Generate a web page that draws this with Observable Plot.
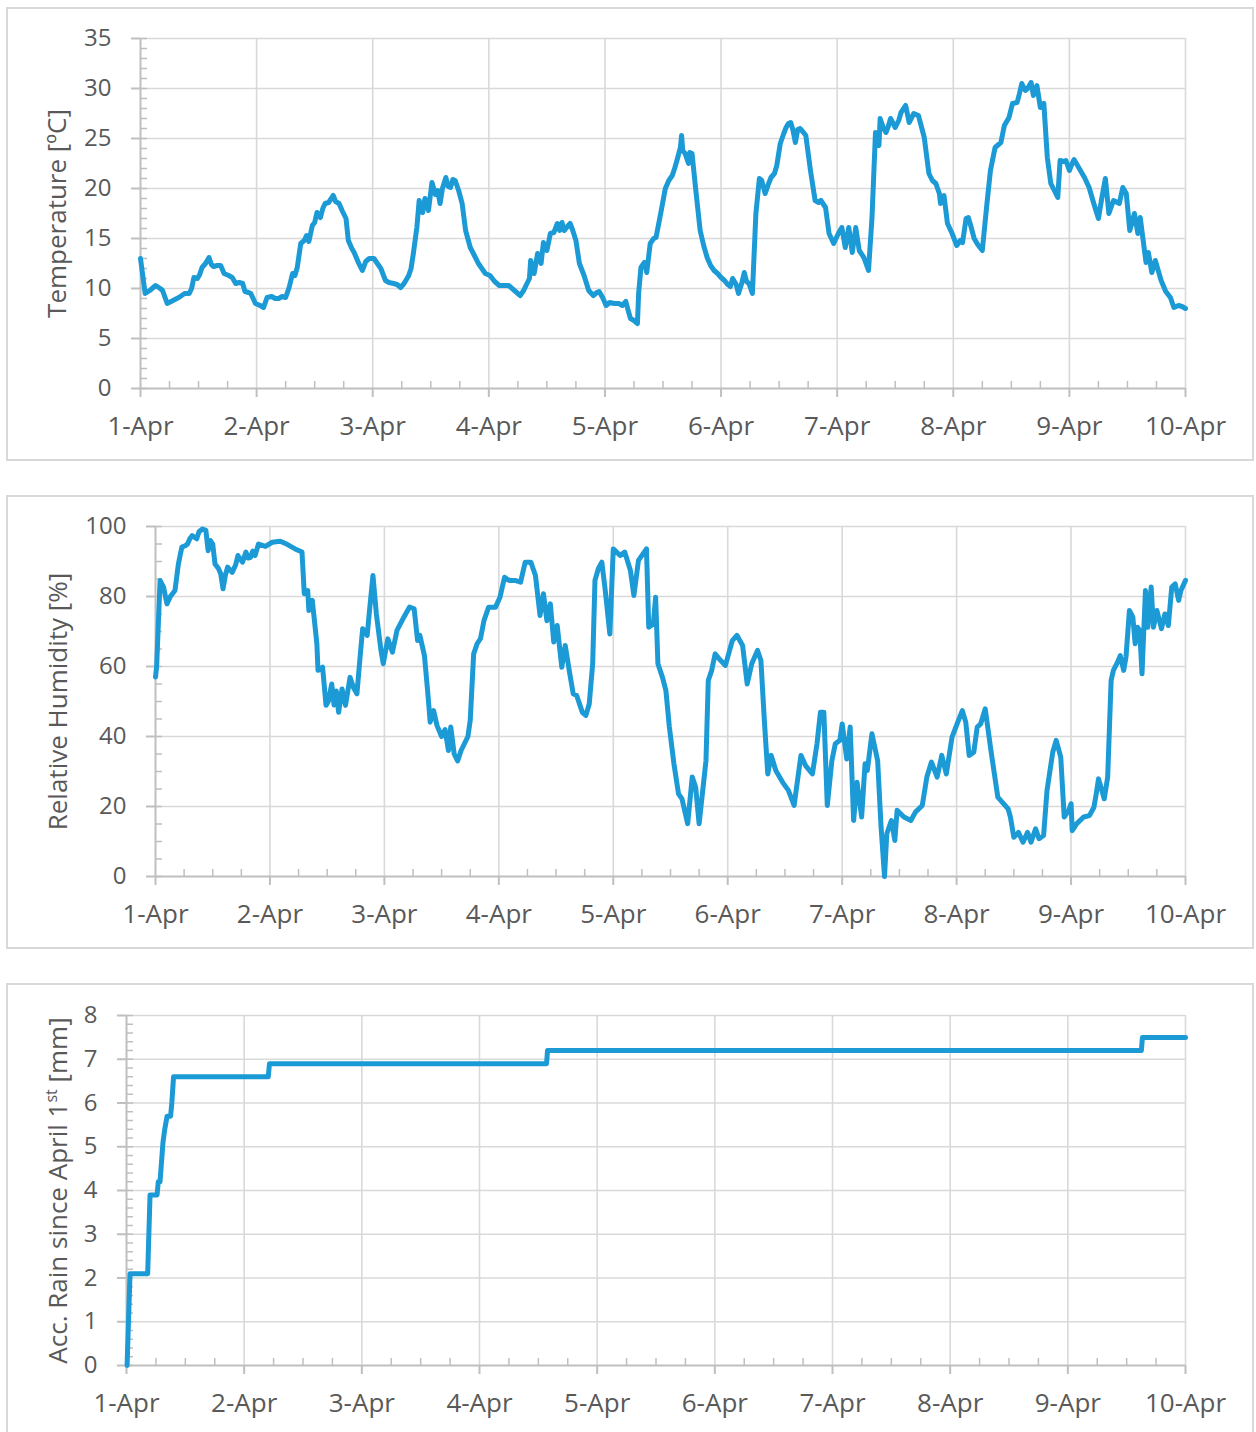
<!DOCTYPE html>
<html><head><meta charset="utf-8">
<script src="https://cdn.jsdelivr.net/npm/d3@7"></script>
<script src="https://cdn.jsdelivr.net/npm/@observablehq/plot@0.6"></script>
<style>
body{margin:0;background:#fff;}
#page{position:relative;width:1256px;height:1432px;overflow:hidden;font-family:"Open Sans",sans-serif;background:#fff;}
.box{position:absolute;border:2px solid #d9d9d9;box-sizing:border-box;pointer-events:none;}
.chart{position:absolute;left:0;}
</style></head><body><div id="page"></div>
<script>
// ---- Data (x = days since 1-Apr 00:00) ----
const dayLabels = ["1-Apr","2-Apr","3-Apr","4-Apr","5-Apr","6-Apr","7-Apr","8-Apr","9-Apr","10-Apr"];

const tempDay = [0.00,0.04,0.08,0.13,0.17,0.19,0.23,0.28,0.33,0.38,0.42,0.44,0.46,0.49,0.51,0.53,0.56,0.59,0.61,0.63,0.66,0.69,0.72,0.76,0.79,0.82,0.85,0.88,0.90,0.93,0.95,0.99,1.03,1.06,1.09,1.13,1.16,1.19,1.22,1.25,1.28,1.31,1.33,1.35,1.38,1.41,1.43,1.45,1.48,1.50,1.52,1.55,1.57,1.59,1.62,1.66,1.68,1.71,1.74,1.77,1.79,1.82,1.84,1.88,1.91,1.94,1.97,2.01,2.04,2.07,2.11,2.14,2.18,2.21,2.24,2.27,2.31,2.33,2.35,2.38,2.40,2.43,2.45,2.48,2.51,2.54,2.56,2.58,2.60,2.63,2.65,2.67,2.69,2.71,2.74,2.77,2.80,2.84,2.88,2.91,2.94,2.97,3.01,3.05,3.09,3.13,3.17,3.22,3.27,3.30,3.32,3.35,3.36,3.39,3.42,3.45,3.47,3.50,3.53,3.56,3.59,3.61,3.63,3.65,3.67,3.70,3.72,3.75,3.78,3.82,3.86,3.90,3.93,3.95,3.98,4.01,4.04,4.08,4.12,4.15,4.18,4.20,4.22,4.25,4.28,4.29,4.31,4.34,4.36,4.39,4.42,4.44,4.48,4.52,4.55,4.58,4.60,4.62,4.65,4.66,4.67,4.69,4.72,4.73,4.75,4.78,4.82,4.85,4.88,4.91,4.94,4.97,5.00,5.03,5.05,5.08,5.10,5.13,5.15,5.18,5.20,5.22,5.24,5.27,5.30,5.33,5.35,5.38,5.41,5.43,5.46,5.48,5.51,5.54,5.56,5.58,5.60,5.62,5.64,5.66,5.68,5.71,5.73,5.77,5.81,5.84,5.86,5.90,5.93,5.97,6.01,6.04,6.07,6.10,6.13,6.16,6.19,6.23,6.27,6.30,6.33,6.36,6.37,6.40,6.42,6.44,6.46,6.50,6.53,6.55,6.59,6.62,6.66,6.70,6.75,6.79,6.82,6.85,6.88,6.89,6.92,6.95,6.99,7.03,7.06,7.08,7.11,7.13,7.15,7.18,7.21,7.25,7.29,7.32,7.36,7.41,7.44,7.48,7.51,7.55,7.57,7.59,7.62,7.64,7.67,7.69,7.72,7.75,7.78,7.81,7.84,7.87,7.90,7.92,7.95,7.97,8.00,8.02,8.04,8.08,8.13,8.17,8.21,8.25,8.28,8.31,8.34,8.38,8.43,8.46,8.49,8.52,8.56,8.59,8.61,8.66,8.68,8.71,8.74,8.79,8.83,8.87,8.90,8.94,8.97,9.00];
const tempC = [13.0,9.5,9.8,10.3,10.0,9.8,8.5,8.8,9.1,9.5,9.5,10.0,11.1,11.0,11.4,12.1,12.5,13.1,12.4,12.2,12.3,12.3,11.5,11.3,11.1,10.5,10.6,10.5,9.7,9.6,9.5,8.5,8.3,8.1,9.1,9.2,9.0,9.0,9.2,9.1,10.1,11.5,11.3,12.1,14.5,14.8,15.3,14.7,16.3,16.6,17.6,17.1,18.0,18.5,18.6,19.3,18.7,18.5,17.7,17.0,14.8,14.0,13.6,12.5,11.8,12.7,13.0,13.0,12.5,12.0,10.8,10.6,10.5,10.4,10.1,10.5,11.3,12.0,13.5,16.1,18.8,17.6,19.0,17.8,20.6,19.4,19.8,18.5,20.0,21.1,20.2,20.1,20.9,20.8,19.8,18.5,15.8,14.1,13.2,12.5,12.0,11.5,11.3,10.7,10.3,10.3,10.3,9.8,9.3,9.8,10.3,11.0,12.8,11.5,13.5,12.5,14.6,13.8,15.5,15.6,16.5,15.8,16.6,15.8,16.1,16.5,15.9,14.8,12.5,11.3,9.8,9.3,9.6,9.7,9.1,8.3,8.6,8.5,8.5,8.3,8.7,7.8,7.0,6.8,6.5,9.5,12.1,12.6,11.6,14.5,15.0,15.1,17.5,20.0,20.8,21.3,22.0,22.8,24.1,25.3,23.8,23.5,22.5,23.6,23.5,20.1,15.8,14.3,13.1,12.3,11.8,11.5,11.1,10.8,10.5,10.2,11.0,10.4,9.5,10.6,11.6,10.7,10.5,9.5,17.5,21.0,20.8,19.5,20.5,21.1,21.5,22.3,24.5,25.5,26.1,26.5,26.6,25.8,24.6,25.9,26.0,25.6,25.3,21.8,18.8,18.6,18.8,18.1,15.5,14.5,15.5,16.1,14.1,16.1,13.6,16.1,13.8,13.1,11.8,17.1,25.6,24.3,27.0,26.0,25.6,26.2,27.0,26.1,26.8,27.6,28.3,26.6,27.5,27.3,25.1,21.5,20.8,20.5,19.5,18.5,19.3,16.5,15.5,14.3,14.8,14.6,17.0,17.1,16.3,15.0,14.4,13.8,18.5,21.8,24.1,24.6,26.3,27.1,28.5,28.6,29.5,30.5,29.8,30.0,30.6,29.3,30.3,28.1,28.5,23.1,20.5,19.8,19.1,22.8,22.7,22.8,21.8,22.4,22.9,22.1,21.1,20.1,18.5,17.0,19.1,21.0,17.5,18.8,18.5,20.1,19.5,15.8,17.5,15.5,17.1,12.6,13.6,11.6,12.8,10.8,9.7,9.1,8.1,8.3,8.2,8.0];

const rhDay = [0.00,0.01,0.04,0.07,0.10,0.13,0.17,0.20,0.23,0.26,0.28,0.30,0.32,0.36,0.38,0.41,0.44,0.46,0.48,0.50,0.52,0.55,0.57,0.59,0.61,0.63,0.67,0.70,0.72,0.76,0.79,0.81,0.83,0.85,0.87,0.90,0.96,1.02,1.09,1.15,1.22,1.28,1.30,1.33,1.34,1.37,1.41,1.42,1.46,1.49,1.51,1.54,1.56,1.58,1.60,1.63,1.66,1.70,1.73,1.76,1.79,1.81,1.85,1.87,1.90,1.93,1.97,1.99,2.03,2.07,2.11,2.17,2.22,2.26,2.29,2.31,2.35,2.38,2.40,2.43,2.46,2.50,2.53,2.56,2.58,2.61,2.64,2.67,2.70,2.73,2.75,2.78,2.81,2.84,2.87,2.91,2.97,3.01,3.05,3.09,3.14,3.19,3.23,3.28,3.32,3.36,3.39,3.42,3.45,3.48,3.51,3.55,3.58,3.62,3.65,3.68,3.73,3.76,3.79,3.82,3.84,3.87,3.90,3.93,3.97,4.00,4.06,4.10,4.15,4.18,4.22,4.29,4.31,4.35,4.37,4.39,4.43,4.46,4.49,4.53,4.57,4.60,4.65,4.69,4.72,4.75,4.81,4.83,4.86,4.89,4.93,4.98,5.04,5.08,5.13,5.17,5.21,5.26,5.29,5.32,5.35,5.38,5.42,5.48,5.53,5.58,5.64,5.68,5.74,5.78,5.81,5.84,5.87,5.91,5.94,5.98,6.00,6.04,6.07,6.10,6.13,6.17,6.20,6.22,6.26,6.31,6.34,6.37,6.39,6.43,6.46,6.48,6.54,6.60,6.64,6.70,6.74,6.78,6.83,6.87,6.91,6.96,7.01,7.05,7.08,7.11,7.15,7.18,7.21,7.25,7.30,7.33,7.36,7.40,7.45,7.47,7.50,7.54,7.58,7.62,7.65,7.69,7.72,7.76,7.79,7.84,7.87,7.91,7.94,7.98,8.00,8.01,8.05,8.11,8.16,8.20,8.22,8.24,8.29,8.32,8.35,8.37,8.40,8.43,8.46,8.48,8.51,8.54,8.56,8.58,8.60,8.62,8.65,8.67,8.70,8.72,8.75,8.79,8.82,8.85,8.88,8.91,8.94,8.96,9.00];
const rhPct = [57,60,84.6,82.7,77.9,80,81.7,89.3,94.1,94.5,95.0,96.5,97.4,96.5,98.5,99.3,98.9,93.1,96,95.0,89.3,88,86.5,82.2,86,88.4,86.9,89,91.7,89.8,92.7,91,91.2,93,91.7,95.0,94.3,95.5,95.8,94.9,93.6,92.7,80.8,81.7,76.0,78.9,66.5,58.9,59.8,48.9,50,55.0,49,53,46.9,53.6,48.9,56.9,54,52.2,63.6,70.8,68.9,76.0,86.0,75,64.6,60.8,67.9,64.1,70.3,74.1,77.0,76.5,67.4,68.9,63.1,52.2,44.1,47.4,43.1,40,42,36,42.7,35,33,36,38,40,44.6,63.6,66.5,68,73.1,76.9,76.9,79.8,85.5,84.6,84.6,84.1,89.8,89.8,86.0,74.6,80.8,73.1,77.9,67.0,71.7,59.8,66.0,57.9,52.2,51.7,46.9,46.0,49.3,60.8,84.6,88,89.8,81.7,69.3,93.6,91.7,92.7,87.4,80.3,90.3,93.6,71.2,72.2,79.8,60.8,56.9,53.1,42.7,32.2,23.6,22.2,15.1,28.4,25.5,15.1,33.1,56.0,58.9,63.6,62,60.3,67.4,68.9,66.0,55.0,60.8,64.6,61.7,44.6,29.3,34.6,30.3,26.9,24.6,20.3,34.6,31.7,29.3,37.9,46.9,46.9,20.3,33.1,37.9,38.9,43.6,33.6,42.7,16.0,26.9,17.0,32.2,30.3,40.8,33.1,14.1,0,12.2,16.0,10.3,18.9,17.0,16.0,18.4,20.3,28.4,32.7,28.4,34.6,29.3,39.8,44.1,47.4,44.1,34.6,35.5,42.7,43.6,47.9,36.0,29.3,22.7,21.2,19.3,17.0,11.2,12.6,9.8,12.6,9.8,13.6,10.8,11.7,24.6,35.5,38.9,34.1,17.0,18.9,20.8,13.1,15.1,17.0,17.4,19.8,23.6,27.9,22.2,28.4,56.0,58.9,60.8,63.1,58.9,62.7,76.0,74.1,66.5,71.2,70.3,57.9,81.7,71.2,82.7,71.2,76.0,70.8,75.0,71.7,82.7,83.6,78.9,81.7,84.6];

const rainDay = [0.005,0.03,0.18,0.20,0.26,0.27,0.285,0.31,0.325,0.345,0.375,0.385,0.40,1.205,1.215,3.57,3.578,8.625,8.634,9.00];
const rainMm  = [0,2.1,2.1,3.9,3.9,4.2,4.2,5.1,5.4,5.7,5.7,6.0,6.6,6.6,6.9,6.9,7.2,7.2,7.5,7.5];

// ---- Drawing ----
const page = document.getElementById("page");
const lineColor = "#1b9ad6";
const axisGrey = "#bfbfbf";
const gridGrey = "#d9d9d9";
const textGrey = "#595959";
const dayTicks = d3.range(10);
const quarterTicks = d3.range(0, 9.001, 0.25).filter(d => Math.abs(d - Math.round(d)) > 1e-6);

function panel(cfg) {
  const data = cfg.xs.map((x, i) => ({x, y: cfg.ys[i]}));
  const chart = Plot.plot({
    width: 1256, height: cfg.height,
    marginLeft: cfg.marginLeft, marginRight: 71, marginTop: cfg.marginTop, marginBottom: cfg.marginBottom,
    style: {fontFamily: "'Open Sans', sans-serif", fontSize: "24px", color: textGrey, background: "transparent", overflow: "visible"},
    x: {domain: [0, 9]},
    y: {domain: cfg.yDomain},
    marks: [
      Plot.gridY(cfg.yMajor.slice(1), {stroke: gridGrey, strokeOpacity: 1, strokeWidth: 1.6}),
      Plot.gridX(dayTicks.slice(1), {stroke: gridGrey, strokeOpacity: 1, strokeWidth: 1.6}),
      Plot.axisY(cfg.yMinor, {tickSize: -7, stroke: axisGrey, strokeWidth: 1.5, tickFormat: () => "", label: null}),
      Plot.axisY(cfg.yMajor, {tickSize: 9, tickPadding: 20, stroke: axisGrey, strokeWidth: 2, fill: textGrey, fontSize: 24,
        label: cfg.label, labelAnchor: "center", labelArrow: "none", labelOffset: cfg.labelOffset}),
      Plot.axisX(quarterTicks, {tickSize: -7, stroke: axisGrey, strokeWidth: 1.5, tickFormat: () => "", label: null}),
      Plot.axisX(dayTicks, {tickSize: 9, tickPadding: 19, stroke: axisGrey, strokeWidth: 2, fill: textGrey, fontSize: 26,
        tickFormat: d => dayLabels[d], label: null}),
      Plot.ruleY([cfg.yDomain[0]], {stroke: axisGrey, strokeWidth: 2}),
      Plot.ruleX([0], {stroke: axisGrey, strokeWidth: 2}),
      Plot.line(data, {x: "x", y: "y", stroke: lineColor, strokeWidth: 5, strokeLinejoin: "round", strokeLinecap: "round"})
    ]
  });
  chart.classList.add("chart");
  chart.style.top = cfg.top + "px";
  page.appendChild(chart);
  d3.select(chart).selectAll("g[aria-label='y-axis label'] text").attr("font-size", 26);
  const box = document.createElement("div");
  box.className = "box";
  Object.assign(box.style, cfg.box);
  page.appendChild(box);
  return chart;
}

panel({top: 0, height: 470, marginLeft: 140, marginTop: 38, marginBottom: 82,
  xs: tempDay, ys: tempC, yDomain: [0, 35], yMajor: d3.range(0, 36, 5), yMinor: d3.range(0, 36, 1),
  label: "Temperature [ºC]", labelOffset: 93,
  box: {left: "6px", top: "7px", width: "1248px", height: "454px"}});

panel({top: 480, height: 470, marginLeft: 155, marginTop: 46, marginBottom: 74,
  xs: rhDay, ys: rhPct, yDomain: [0, 100], yMajor: d3.range(0, 101, 20), yMinor: d3.range(0, 101, 5),
  label: "Relative Humidity [%]", labelOffset: 107,
  box: {left: "6px", top: "495px", width: "1248px", height: "454px"}});

const rain = panel({top: 970, height: 462, marginLeft: 126, marginTop: 45, marginBottom: 67,
  xs: rainDay, ys: rainMm, yDomain: [0, 8], yMajor: d3.range(0, 9, 1), yMinor: d3.range(0, 40.5, 1).map(d => d / 5),
  label: "Acc. Rain since April 1st [mm]", labelOffset: 78,
  box: {left: "6px", top: "983px", width: "1248px", height: "470px"}});

// superscript "st" in the rain label
d3.select(rain).selectAll("g[aria-label='y-axis label'] text").each(function() {
  const t = d3.select(this);
  t.text(null);
  t.append("tspan").text("Acc. Rain since April 1");
  t.append("tspan").attr("font-size", "16px").attr("dy", "-10").text("st");
  t.append("tspan").attr("dy", "10").text(" [mm]");
});
</script>
</body></html>
